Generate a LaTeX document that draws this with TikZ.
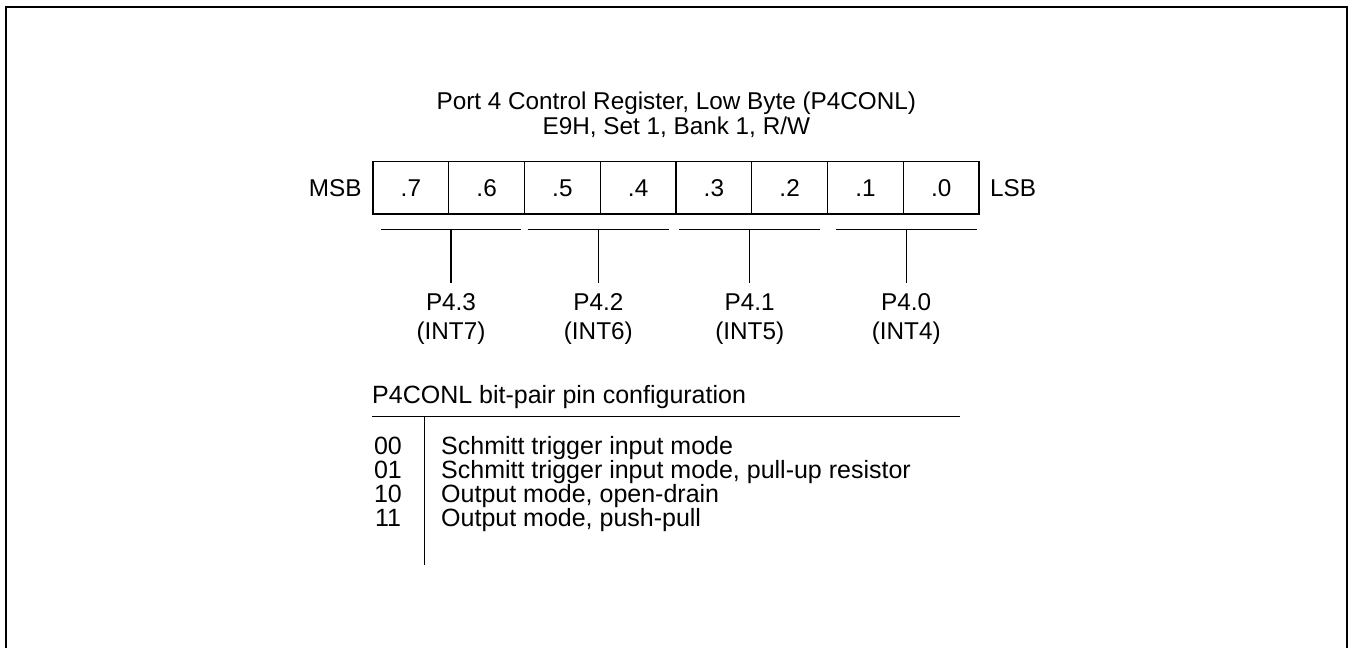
\documentclass[tikz,border=0pt]{standalone}
\usepackage{fontspec}
\setmainfont{Liberation Sans}
\begin{document}
\begin{tikzpicture}[x=1pt,y=-1pt,
  txt/.style={inner sep=0pt,font=\fontsize{24.3}{28}\selectfont},
  tab/.style={inner sep=0pt,font=\fontsize{25}{28}\selectfont},
  cell/.style={draw,line width=1.3pt,minimum width=75.75pt,minimum height=52.3pt,inner sep=0pt,font=\fontsize{24.3}{28}\selectfont},
  ln/.style={line width=1.3pt},
  frame/.style={line width=2.2pt}]
\useasboundingbox (0,0) rectangle (1353,648);
\draw[frame] (6,650) -- (6,6.7) -- (1347.2,6.7) -- (1347.2,650);

% title
\node[txt,anchor=base] (t1) at (676.3,109.5) {Port 4 Control Register, Low Byte (P4CONL)};
\node[txt,anchor=base] (t2) at (676.3,134) {E9H, Set 1, Bank 1, R/W};

% register
\node[cell] (b7) at (410.875,187.85) {.7};
\node[cell] (b6) at (486.625,187.85) {.6};
\node[cell] (b5) at (562.375,187.85) {.5};
\node[cell] (b4) at (638.125,187.85) {.4};
\node[cell] (b3) at (713.875,187.85) {.3};
\node[cell] (b2) at (789.625,187.85) {.2};
\node[cell] (b1) at (865.375,187.85) {.1};
\node[cell] (b0) at (941.125,187.85) {.0};
\node[txt,anchor=east] (msb) at (361.7,187.85) {MSB};
\node[txt,anchor=west] (lsb) at (990,187.85) {LSB};

% bit-pair brackets
\coordinate (g3a) at (381,229.3);   \coordinate (g3b) at (521,229.3);
\coordinate (g2a) at (527.7,229.3); \coordinate (g2b) at (669,229.3);
\coordinate (g1a) at (679.3,229.3); \coordinate (g1b) at (820,229.3);
\coordinate (g0a) at (835.7,229.3); \coordinate (g0b) at (976.7,229.3);
\coordinate (g3m) at (451,229.3);   \coordinate (g3e) at (451,283.3);
\coordinate (g2m) at (598.3,229.3); \coordinate (g2e) at (598.3,283.3);
\coordinate (g1m) at (749.7,229.3); \coordinate (g1e) at (749.7,283.3);
\coordinate (g0m) at (906.2,229.3); \coordinate (g0e) at (906.2,283.3);
\draw[ln] (g3a) -- (g3b) (g3m) -- (g3e);
\draw[ln] (g2a) -- (g2b) (g2m) -- (g2e);
\draw[ln] (g1a) -- (g1b) (g1m) -- (g1e);
\draw[ln] (g0a) -- (g0b) (g0m) -- (g0e);

% pin labels
\node[txt,anchor=base] (p3) at (451,310.5) {P4.3};
\node[txt,anchor=base] (i3) at (451,339.5) {(INT7)};
\node[txt,anchor=base] (p2) at (598.3,310.5) {P4.2};
\node[txt,anchor=base] (i2) at (598.3,339.5) {(INT6)};
\node[txt,anchor=base] (p1) at (749.7,310.5) {P4.1};
\node[txt,anchor=base] (i1) at (749.7,339.5) {(INT5)};
\node[txt,anchor=base] (p0) at (906.2,310.5) {P4.0};
\node[txt,anchor=base] (i0) at (906.2,339.5) {(INT4)};

% table
\node[tab,anchor=base west] (hdr) at (372,403) {P4CONL bit-pair pin configuration};
\coordinate (h1) at (372,416.5); \coordinate (h2) at (960,416.5);
\coordinate (v1) at (424.5,416.5); \coordinate (v2) at (424.5,565);
\draw[ln] (h1) -- (h2);
\draw[ln] (v1) -- (v2);
\node[tab,anchor=base] (c0) at (388,454.5) {00};
\node[tab,anchor=base] (c1) at (388,478.5) {01};
\node[tab,anchor=base] (c2) at (388,502.5) {10};
\node[tab,anchor=base] (c3) at (388,526.5) {11};
\node[tab,anchor=base west] (d0) at (441,454.5) {Schmitt trigger input mode};
\node[tab,anchor=base west] (d1) at (441,478.5) {Schmitt trigger input mode, pull-up resistor};
\node[tab,anchor=base west] (d2) at (441,502.5) {Output mode, open-drain};
\node[tab,anchor=base west] (d3) at (441,526.5) {Output mode, push-pull};
\end{tikzpicture}
\end{document}
